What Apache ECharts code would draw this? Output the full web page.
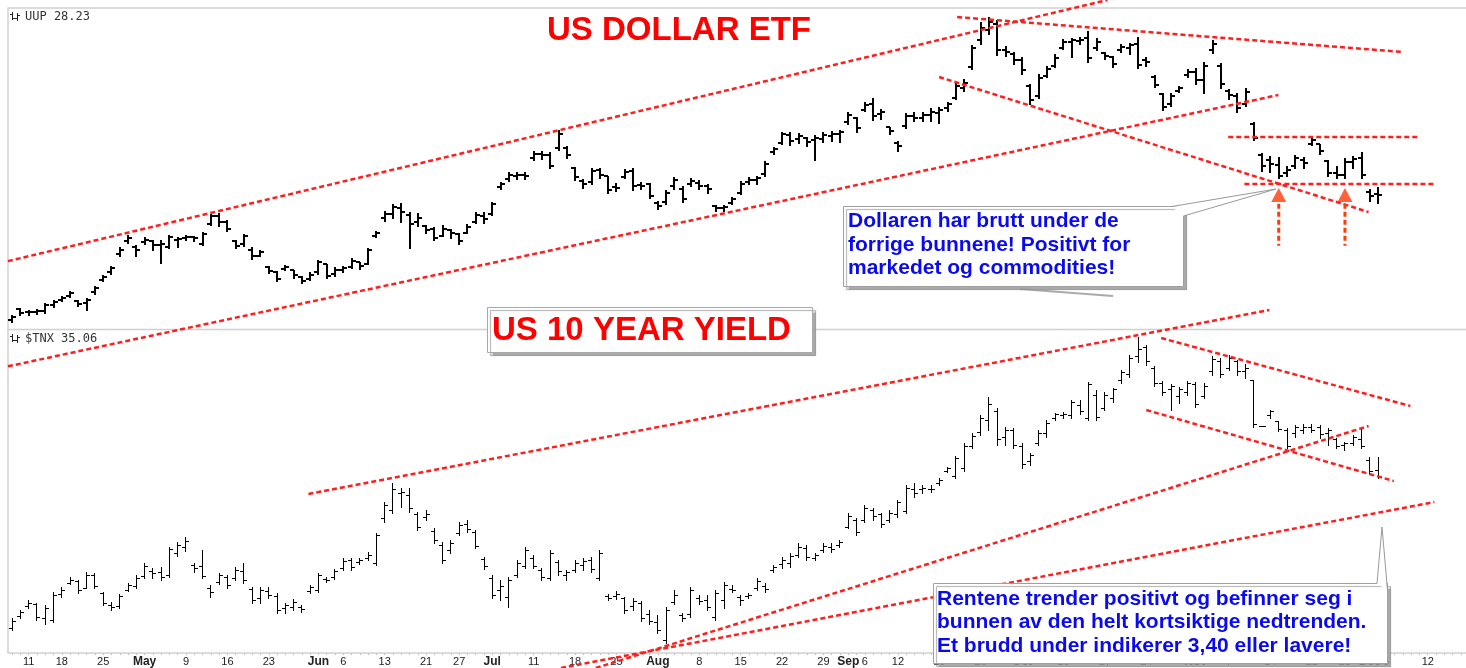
<!DOCTYPE html>
<html><head><meta charset="utf-8">
<script src="https://cdn.jsdelivr.net/npm/echarts@6/dist/echarts.min.js"></script>
<style>html,body{margin:0;padding:0;background:#fff}#chart{width:1466px;height:668px}</style>
</head><body><div id="chart"></div>
<script>
// ---------- DATA ----------
const tradingDays = [
 ['2022-04', [7,8,11,12,13,14,18,19,20,21,22,25,26,27,28,29]],
 ['2022-05', [2,3,4,5,6,9,10,11,12,13,16,17,18,19,20,23,24,25,26,27,31]],
 ['2022-06', [1,2,3,6,7,8,9,10,13,14,15,16,17,21,22,23,24,27,28,29,30]],
 ['2022-07', [1,5,6,7,8,11,12,13,14,15,18,19,20,21,22,25,26,27,28,29]],
 ['2022-08', [1,2,3,4,5,8,9,10,11,12,15,16,17,18,19,22,23,24,25,26,29,30,31]],
 ['2022-09', [1,2,6,7,8,9,12,13,14,15,16,19,20,21,22,23,26,27,28,29,30]],
 ['2022-10', [3,4,5,6,7,10,11,12,13,14,17,18,19,20,21,24,25,26,27,28,31]],
 ['2022-11', [1,2,3,4,7,8,9,10,11,14,15,16,17,18,21,22,23,25,28,29,30]],
 ['2022-12', [1,2,5,6,7,8,9,12,13,14,15,16]]
];
const tickLabels = [
 ['2022-04-11','11'],['2022-04-18','18'],['2022-04-25','25'],['2022-05-02','May'],['2022-05-09','9'],
 ['2022-05-16','16'],['2022-05-23','23'],['2022-06-01','Jun'],['2022-06-06','6'],['2022-06-13','13'],
 ['2022-06-21','21'],['2022-06-27','27'],['2022-07-01','Jul'],['2022-07-11','11'],['2022-07-18','18'],
 ['2022-07-25','25'],['2022-08-01','Aug'],['2022-08-08','8'],['2022-08-15','15'],['2022-08-22','22'],
 ['2022-08-29','29'],['2022-09-01','Sep'],['2022-09-06','6'],['2022-09-12','12'],['2022-09-19','19'],
 ['2022-09-26','26'],['2022-10-03','Oct'],['2022-10-10','10'],['2022-10-17','17'],['2022-10-24','24'],
 ['2022-11-01','Nov'],['2022-11-07','7'],['2022-11-14','14'],['2022-11-21','21'],['2022-11-28','28'],
 ['2022-12-01','Dec'],['2022-12-05','5'],['2022-12-12','12']
];
// UUP daily bars: [open, high, low, close]
const uupOHLC = [
[26.36,26.43,26.33,26.40],[26.52,26.54,26.43,26.46],[26.48,26.51,26.43,26.48],[26.48,26.52,26.45,26.49],[26.49,26.61,26.46,26.58],
[26.58,26.66,26.55,26.63],[26.66,26.72,26.64,26.69],[26.72,26.79,26.70,26.76],[26.64,26.66,26.57,26.60],[26.61,26.69,26.51,26.66],
[26.78,26.87,26.75,26.84],[26.96,27.03,26.94,27.00],[27.08,27.17,27.05,27.14],[27.35,27.45,27.32,27.41],[27.54,27.63,27.51,27.59],
[27.45,27.48,27.32,27.41],[27.53,27.60,27.50,27.56],[27.54,27.56,27.41,27.48],[27.48,27.56,27.21,27.50],[27.45,27.63,27.44,27.60],
[27.56,27.60,27.45,27.57],[27.59,27.63,27.56,27.60],[27.60,27.62,27.54,27.59],[27.50,27.68,27.48,27.65],[27.80,27.95,27.78,27.92],
[27.92,27.96,27.77,27.83],[27.83,27.86,27.69,27.72],[27.54,27.56,27.44,27.47],[27.50,27.65,27.47,27.62],[27.41,27.45,27.27,27.32],
[27.32,27.41,27.32,27.38],[27.15,27.17,27.06,27.09],[27.08,27.09,26.94,26.97],[27.12,27.18,27.11,27.15],[27.11,27.11,26.99,27.03],
[27.00,27.02,26.91,26.94],[26.97,27.08,26.96,27.03],[27.08,27.26,27.05,27.23],[27.20,27.20,26.99,27.02],[27.05,27.15,27.02,27.11],
[27.11,27.17,27.08,27.14],[27.15,27.29,27.14,27.24],[27.23,27.23,27.12,27.17],[27.20,27.44,27.20,27.41],[27.62,27.69,27.60,27.66],
[27.89,27.99,27.84,27.95],[27.95,28.10,27.89,28.05],[28.04,28.11,27.83,27.98],[27.93,27.98,27.44,27.80],[27.83,27.96,27.77,27.89],
[27.77,27.78,27.66,27.71],[27.72,27.75,27.56,27.59],[27.62,27.78,27.62,27.72],[27.71,27.72,27.59,27.66],[27.65,27.66,27.50,27.54],
[27.66,27.80,27.66,27.75],[27.83,27.98,27.81,27.93],[27.92,27.98,27.81,27.87],[27.95,28.13,27.93,28.10],[28.35,28.43,28.32,28.40],
[28.47,28.58,28.44,28.53],[28.52,28.58,28.47,28.53],[28.53,28.58,28.47,28.52],[28.79,28.89,28.76,28.85],[28.85,28.89,28.77,28.83],
[28.83,28.88,28.64,28.67],[28.94,29.21,28.91,29.15],[28.94,28.97,28.79,28.83],[28.64,28.65,28.46,28.50],[28.44,28.47,28.34,28.40],
[28.43,28.64,28.40,28.59],[28.61,28.64,28.49,28.53],[28.52,28.52,28.26,28.31],[28.35,28.41,28.29,28.34],[28.50,28.62,28.49,28.58],
[28.59,28.64,28.31,28.37],[28.38,28.43,28.32,28.37],[28.40,28.41,28.19,28.22],[28.11,28.14,28.02,28.07],[28.13,28.31,28.10,28.26],
[28.37,28.50,28.32,28.46],[28.32,28.37,28.13,28.17],[28.40,28.49,28.37,28.44],[28.41,28.46,28.32,28.37],[28.37,28.40,28.26,28.32],
[28.07,28.08,27.99,28.04],[28.04,28.08,27.99,28.05],[28.11,28.20,28.10,28.17],[28.26,28.44,28.25,28.40],[28.43,28.50,28.40,28.46],
[28.46,28.52,28.40,28.49],[28.55,28.74,28.52,28.70],[28.88,28.95,28.85,28.92],[29.01,29.18,29.00,29.15],[29.13,29.18,28.98,29.04],
[29.07,29.16,29.01,29.12],[29.09,29.10,28.97,29.03],[29.06,29.13,28.76,29.09],[29.07,29.18,29.03,29.13],[29.12,29.19,29.04,29.15],
[29.15,29.21,29.03,29.18],[29.33,29.48,29.30,29.43],[29.39,29.40,29.18,29.24],[29.51,29.63,29.49,29.58],[29.60,29.69,29.36,29.42],
[29.45,29.52,29.37,29.48],[29.25,29.25,29.15,29.19],[29.01,29.04,28.89,28.97],[29.27,29.46,29.24,29.42],[29.42,29.48,29.34,29.39],
[29.39,29.48,29.34,29.43],[29.43,29.54,29.34,29.48],[29.46,29.55,29.31,29.51],[29.54,29.63,29.49,29.60],[29.69,29.93,29.67,29.87],
[29.84,29.97,29.79,29.91],[30.15,30.48,30.12,30.44],[30.56,30.83,30.50,30.74],[30.71,30.90,30.65,30.83],[30.80,30.86,30.33,30.41],
[30.41,30.47,30.32,30.38],[30.35,30.38,30.20,30.26],[30.26,30.30,30.05,30.11],[29.87,29.90,29.60,29.66],[29.72,30.05,29.69,29.99],
[30.02,30.17,30.00,30.12],[30.17,30.35,30.15,30.29],[30.44,30.57,30.42,30.53],[30.53,30.59,30.30,30.56],[30.54,30.60,30.50,30.56],
[30.59,30.69,30.23,30.29],[30.44,30.59,30.41,30.53],[30.36,30.38,30.27,30.32],[30.30,30.32,30.15,30.20],[30.41,30.50,30.38,30.45],
[30.44,30.51,30.35,30.48],[30.50,30.60,30.14,30.18],[30.26,30.30,30.17,30.23],[30.00,30.03,29.85,29.88],[29.75,29.76,29.51,29.55],
[29.60,29.76,29.57,29.72],[29.79,29.87,29.78,29.84],[30.03,30.12,30.00,30.08],[30.08,30.14,29.90,29.96],[29.96,30.23,29.76,30.17],
[30.41,30.56,30.36,30.50],[30.17,30.21,29.84,29.90],[29.79,29.82,29.67,29.73],[29.72,29.76,29.48,29.54],[29.60,29.84,29.57,29.78],
[29.30,29.33,29.06,29.09],[28.83,28.86,28.59,28.67],[28.76,28.82,28.58,28.70],[28.68,28.80,28.49,28.52],[28.56,28.67,28.52,28.61],
[28.67,28.83,28.64,28.79],[28.76,28.80,28.64,28.71],[29.00,29.10,28.98,29.06],[29.00,29.00,28.85,28.89],[28.74,28.76,28.52,28.56],
[28.56,28.67,28.49,28.53],[28.53,28.79,28.49,28.73],[28.73,28.82,28.64,28.77],[28.79,28.88,28.49,28.53],[28.28,28.32,28.14,28.22],
[28.25,28.35,28.11,28.23]
];
// $TNX daily bars (yield x10): [open, high, low, close]
const tnxOHLC = [
[26.06,26.66,25.94,26.48],[26.78,27.14,26.66,27.02],[27.38,27.74,27.26,27.56],[27.50,27.56,26.54,26.72],[26.66,27.44,26.30,27.26],
[26.54,28.22,26.42,28.04],[28.10,28.52,27.92,28.34],[28.76,29.12,28.70,28.94],[28.88,28.94,28.16,28.34],[28.46,29.42,28.46,29.24],
[29.24,29.36,28.46,28.58],[28.16,28.22,27.44,27.56],[27.44,27.62,27.14,27.32],[27.38,28.10,27.26,27.98],[28.34,28.76,28.28,28.64],
[28.58,29.24,28.46,29.06],[29.18,29.96,29.06,29.78],[29.48,29.66,29.06,29.36],[29.42,29.72,28.94,29.12],[29.24,30.92,29.12,30.80],
[30.56,31.22,30.38,31.04],[30.92,31.52,30.68,31.28],[29.84,29.96,29.42,29.66],[29.78,30.74,29.06,29.18],[28.46,28.64,27.92,28.22],
[28.82,29.36,28.70,29.24],[29.12,29.24,28.46,28.64],[29.06,29.72,28.94,29.54],[29.48,29.96,28.76,28.94],[28.40,28.52,27.56,27.74],
[27.86,28.52,27.56,28.34],[28.28,28.52,27.86,28.04],[27.98,28.16,26.96,27.14],[27.26,27.56,26.96,27.44],[27.32,27.80,27.14,27.62],
[27.32,27.44,27.02,27.20],[28.28,28.64,28.16,28.52],[28.34,29.36,28.22,29.24],[29.00,29.12,28.82,28.94],[29.12,29.60,29.00,29.48],
[29.66,30.26,29.54,30.08],[30.14,30.26,29.54,29.72],[30.02,30.26,29.90,30.14],[30.26,30.62,30.14,30.44],[29.96,31.76,29.84,31.64],
[32.66,33.62,32.42,33.44],[33.14,34.76,32.96,34.34],[34.16,34.46,33.32,34.22],[34.04,34.46,33.02,33.26],[32.84,33.02,31.94,32.12],
[32.72,33.14,32.54,32.90],[31.88,32.06,31.16,31.34],[31.04,31.22,29.96,30.14],[30.74,31.34,30.56,31.16],[31.76,32.42,31.64,32.24],
[32.30,32.54,31.82,32.00],[31.82,31.94,30.86,30.98],[30.20,30.32,29.60,29.78],[29.06,29.24,27.86,28.04],[28.34,28.94,27.74,28.58],
[27.92,29.12,27.32,28.94],[29.24,30.14,29.12,29.96],[29.78,30.92,29.66,30.74],[30.26,30.44,29.66,29.78],[29.54,29.66,28.94,29.12],
[29.06,30.74,28.94,30.56],[30.02,30.14,29.24,29.48],[29.24,29.54,28.94,29.42],[29.54,30.14,29.42,29.96],[29.84,30.26,29.54,30.08],
[30.14,30.32,29.42,29.60],[29.06,30.74,28.94,30.56],[27.98,28.10,27.74,27.86],[27.98,28.28,27.80,28.10],[27.86,27.92,26.96,27.14],
[27.38,27.86,27.14,27.68],[27.56,27.68,26.48,26.66],[26.90,27.14,26.30,26.48],[26.42,26.84,25.76,25.94],[25.34,27.32,25.16,27.14],
[27.62,28.34,27.50,28.04],[26.84,26.96,26.48,26.66],[26.90,28.52,26.72,28.34],[27.86,28.04,27.50,27.68],[27.74,28.04,27.14,27.32],
[26.72,28.34,26.54,28.16],[27.74,28.82,27.26,28.64],[28.40,28.64,28.22,28.34],[27.92,28.04,27.44,27.74],[27.98,28.16,27.86,28.04],
[28.46,29.06,28.34,28.88],[28.58,28.76,28.22,28.40],[29.54,29.84,29.42,29.72],[29.90,30.32,29.66,30.14],[29.96,30.56,29.72,30.38],
[30.44,31.16,30.32,30.92],[30.86,31.04,30.14,30.32],[30.26,30.56,30.14,30.44],[30.74,31.16,30.62,30.98],[30.92,31.16,30.62,30.80],
[31.04,31.34,30.92,31.22],[32.12,32.96,32.06,32.78],[32.54,32.66,31.64,31.82],[32.54,33.44,32.42,33.26],[33.14,33.26,32.54,32.78],
[32.84,32.96,32.12,32.30],[32.54,33.14,32.42,32.96],[32.84,33.74,32.72,33.56],[33.08,34.64,32.96,34.46],[34.34,34.76,33.92,34.10],
[34.34,34.64,34.16,34.46],[34.40,34.64,34.22,34.34],[34.70,35.06,34.64,34.94],[35.48,35.72,35.42,35.60],[35.18,36.38,35.06,36.20],
[35.66,37.16,35.48,36.98],[36.98,37.76,36.86,37.58],[37.82,38.84,37.64,38.66],[38.54,39.92,37.94,39.50],[39.02,39.26,37.04,37.34],
[37.46,38.12,37.04,37.94],[37.94,38.06,36.86,37.04],[36.98,37.16,35.66,35.84],[36.02,36.56,35.84,36.44],[37.16,37.94,37.04,37.76],
[37.70,38.54,37.52,38.36],[38.66,38.96,38.54,38.84],[38.78,39.02,38.66,38.90],[38.78,39.74,38.66,39.56],[39.44,39.74,38.90,39.08],
[38.66,40.82,38.54,40.64],[40.04,40.34,38.54,38.72],[39.26,40.22,39.14,40.04],[39.86,40.46,39.62,40.34],[40.88,41.54,40.76,41.36],
[41.24,42.44,41.12,42.26],[42.32,43.52,42.02,42.74],[42.86,43.04,41.84,42.02],[41.66,41.78,40.58,40.76],[40.76,40.88,40.04,40.22],
[40.34,40.70,39.14,40.52],[39.98,40.52,39.56,40.34],[40.22,40.88,40.04,40.70],[40.64,40.82,39.32,39.50],[39.98,40.76,39.86,40.58],
[41.42,42.38,41.24,42.14],[42.02,42.26,41.12,41.30],[41.66,42.44,41.54,42.26],[42.02,42.14,41.24,41.42],[41.42,41.90,41.06,41.66],
[40.88,40.94,38.12,38.24],[38.18,38.18,38.18,38.18],[38.78,39.14,38.66,39.02],[38.42,38.48,37.88,38.00],[37.94,38.06,36.86,36.98],
[37.76,38.24,37.52,38.06],[37.94,38.30,37.76,38.12],[38.06,38.30,37.82,37.94],[38.12,38.24,37.46,37.64],[37.70,38.06,37.04,37.88],
[37.34,37.46,36.86,36.98],[37.04,37.22,36.74,37.10],[37.16,37.64,37.04,37.46],[37.34,38.06,36.86,36.98],[36.14,36.32,35.30,35.42],
[35.54,36.32,35.06,35.06]
];
// trendlines in data units: [[trading-day index, price], [trading-day index, price]]
const uupTrendlines = [
 [[-1.45, 27.21], [132.3, 31.155]],
 [[-1.45, 25.635], [152.96, 29.73]],
 [[114.15, 30.90], [167.96, 30.375]],
 [[111.97, 30.00], [163.85, 27.975]],
 [[146.9, 29.10], [169.8, 29.10]],
 [[148.85, 28.395], [171.7, 28.395]]
];
const tnxTrendlines = [
 [[35.79, 34.10], [151.87, 45.14]],
 [[138.8, 43.46], [168.9, 39.38]],
 [[137.0, 39.14], [166.9, 34.88]],
 [[70.5, 23.66], [163.85, 38.18]],
 [[66.3, 23.66], [171.8, 33.62]]
];
const arrowDates = ['2022-11-15', '2022-11-28'];
const arrowHeadLevel = 28.23;
const arrowStem = [28.10, 27.47];
const uupRange = [26.22, 31.035];
const tnxRange = [24.56, 43.94];

// ---------- BUILD ----------
const categories = [];
tradingDays.forEach(([ym, days]) => days.forEach(d => categories.push(ym + '-' + String(d).padStart(2, '0'))));
const tickMap = Object.fromEntries(tickLabels);
const N = categories.length;

const RED = '#ff1e1e', ARROW = '#ff3b0a', BLUE = '#0a0af0', BORDER = '#d0d0d0';
const GL = 8, GR = 1;

function ohlcSeries(data, xi, yi, lw, tick) {
  return {
    type: 'custom', xAxisIndex: xi, yAxisIndex: yi, z: 2, animation: false, silent: true,
    data: data.map((d, i) => [i, d[0], d[1], d[2], d[3]]),
    encode: { x: 0, y: [1, 2, 3, 4] },
    renderItem: function (params, api) {
      const i = api.value(0);
      const off = lw % 2 ? 0.5 : 0;
      const snap = v => Math.round(v - off) + off;
      const pO = api.coord([i, api.value(1)]);
      const pH = api.coord([i, api.value(2)]);
      const pL = api.coord([i, api.value(3)]);
      const pC = api.coord([i, api.value(4)]);
      const x = snap(pO[0]);
      const st = { stroke: '#000', lineWidth: lw, lineCap: 'butt' };
      return { type: 'group', children: [
        { type: 'line', shape: { x1: x, y1: Math.round(pH[1]), x2: x, y2: Math.round(pL[1]) + 1 }, style: st },
        { type: 'line', shape: { x1: x - lw / 2 - tick, y1: snap(pO[1]), x2: x, y2: snap(pO[1]) }, style: st },
        { type: 'line', shape: { x1: x, y1: snap(pC[1]), x2: x + lw / 2 + tick, y2: snap(pC[1]) }, style: st }
      ]};
    }
  };
}
function trendSeries(seg, xi, yi) {
  return { type: 'line', xAxisIndex: xi, yAxisIndex: yi, data: seg, symbol: 'none', clip: false,
    silent: true, z: 5, animation: false, lineStyle: { color: RED, width: 2.5, type: [5, 3] } };
}

const series = [
  ohlcSeries(uupOHLC, 0, 0, 2, 3),
  ohlcSeries(tnxOHLC, 1, 1, 1, 3),
  ...uupTrendlines.map(s => trendSeries(s, 2, 0)),
  ...tnxTrendlines.map(s => trendSeries(s, 3, 1)),
  ...arrowDates.map(d => ({ type: 'line', xAxisIndex: 0, yAxisIndex: 0, data: [[d, arrowStem[0]], [d, arrowStem[1]]],
    symbol: 'none', clip: false, silent: true, z: 6, animation: false, lineStyle: { color: ARROW, width: 3, type: [5, 3] } })),
  { type: 'scatter', xAxisIndex: 0, yAxisIndex: 0, data: arrowDates.map(d => [d, arrowHeadLevel]), symbol: 'triangle',
    symbolSize: [15, 14], itemStyle: { color: ARROW }, z: 7, silent: true, animation: false }
];

const txtFont = 'bold 21px "Liberation Sans", Arial, sans-serif';
function textEl(x, y, text, font, fill) {
  return { type: 'text', x: x, y: y, z: 110, silent: true,
    style: { text: text, font: font, fill: fill, align: 'left', verticalAlign: 'middle' } };
}
function tickerIcon(x, y) {
  const st = { stroke: '#222', lineWidth: 1 };
  return [
    { type: 'line', z: 110, shape: { x1: x + 0.5, y1: y, x2: x + 0.5, y2: y + 8 }, style: st },
    { type: 'line', z: 110, shape: { x1: x - 2, y1: y + 2.5, x2: x, y2: y + 2.5 }, style: st },
    { type: 'line', z: 110, shape: { x1: x + 1, y1: y + 6.5, x2: x + 3, y2: y + 6.5 }, style: st },
    { type: 'line', z: 110, shape: { x1: x + 5.5, y1: y + 1, x2: x + 5.5, y2: y + 9 }, style: st },
    { type: 'line', z: 110, shape: { x1: x + 3, y1: y + 6.5, x2: x + 5, y2: y + 6.5 }, style: st },
    { type: 'line', z: 110, shape: { x1: x + 6, y1: y + 3.5, x2: x + 8, y2: y + 3.5 }, style: st }
  ];
}
function borderLine(x1, y1, x2, y2) {
  return { type: 'line', z: 1, silent: true, shape: { x1, y1, x2, y2 }, style: { stroke: BORDER, lineWidth: 1.5 } };
}
const monoFont = '12px "DejaVu Sans Mono", monospace';
const uupLast = uupOHLC[uupOHLC.length - 1][3].toFixed(2);
const tnxLast = tnxOHLC[tnxOHLC.length - 1][3].toFixed(2);

const graphic = [
  borderLine(7.5, 8, 1466, 8),
  borderLine(8, 8, 8, 653),
  borderLine(7.5, 329.5, 1466, 329.5),
  borderLine(7.5, 653, 1466, 653),
  ...tickerIcon(12, 12),
  textEl(25, 16.5, 'UUP ' + uupLast, monoFont, '#333'),
  ...tickerIcon(12, 334),
  textEl(25, 338.5, '$TNX ' + tnxLast, monoFont, '#333'),
  textEl(547, 31, 'US DOLLAR ETF', 'bold 33px "Liberation Sans", Arial, sans-serif', '#ff0000'),
  // US 10 YEAR YIELD box
  { type: 'rect', z: 105, shape: { x: 487.5, y: 307.5, width: 325, height: 45 },
    style: { fill: '#fff', stroke: '#a8a8a8', lineWidth: 1, shadowColor: 'rgba(150,150,150,0.8)', shadowOffsetX: 3, shadowOffsetY: 3, shadowBlur: 1 } },
  textEl(492, 330.5, 'US 10 YEAR YIELD', 'bold 33px "Liberation Sans", Arial, sans-serif', '#ff0000'),
  // Dollaren callout
  { type: 'line', z: 104, shape: { x1: 1020, y1: 289, x2: 1113, y2: 296 }, style: { stroke: '#aaa', lineWidth: 2 } },
  { type: 'rect', z: 105, shape: { x: 843.5, y: 206.5, width: 340, height: 80 },
    style: { fill: '#fff', stroke: '#a0a0a0', lineWidth: 1, shadowColor: 'rgba(150,150,150,0.8)', shadowOffsetX: 3, shadowOffsetY: 3, shadowBlur: 1 } },
  { type: 'polygon', z: 106, shape: { points: [[1172, 207], [1276, 189], [1183, 216]] }, style: { fill: '#fff' } },
  { type: 'polyline', z: 107, shape: { points: [[1172, 206.5], [1276, 189], [1183.5, 216]] }, style: { stroke: '#999', lineWidth: 1, fill: null } },
  textEl(848, 221.5, 'Dollaren har brutt under de', txtFont, BLUE),
  textEl(848, 245, 'forrige bunnene! Positivt for', txtFont, BLUE),
  textEl(848, 268.5, 'markedet og commodities!', txtFont, BLUE),
  // Rentene callout
  { type: 'rect', z: 105, shape: { x: 933.5, y: 583.5, width: 454, height: 80 },
    style: { fill: '#fff', stroke: '#a0a0a0', lineWidth: 1, shadowColor: 'rgba(150,150,150,0.8)', shadowOffsetX: 3, shadowOffsetY: 3, shadowBlur: 1 } },
  { type: 'polygon', z: 106, shape: { points: [[1377, 584], [1382, 527], [1387, 590]] }, style: { fill: '#fff' } },
  { type: 'polyline', z: 107, shape: { points: [[1377, 583.5], [1382, 527], [1387.5, 590]] }, style: { stroke: '#999', lineWidth: 1, fill: null } },
  textEl(937, 599, 'Rentene trender positivt og befinner seg i', txtFont, BLUE),
  textEl(937, 622.5, 'bunnen av den helt kortsiktige nedtrenden.', txtFont, BLUE),
  textEl(937, 646, 'Et brudd under indikerer 3,40 eller lavere!', txtFont, BLUE)
];

const chart = echarts.init(document.getElementById('chart'), null, { renderer: 'canvas' });
chart.setOption({
  animation: false,
  backgroundColor: '#fff',
  grid: [
    { left: GL, right: GR, top: 8, height: 321, show: false, containLabel: false },
    { left: GL, right: GR, top: 330, height: 323, show: false, containLabel: false }
  ],
  xAxis: [
    { type: 'category', gridIndex: 0, data: categories, boundaryGap: true, axisLine: { show: false }, axisTick: { show: false }, axisLabel: { show: false }, splitLine: { show: false } },
    { type: 'category', gridIndex: 1, data: categories, boundaryGap: true,
      axisLine: { show: false },
      axisTick: { show: true, interval: 0, alignWithLabel: true, length: 2, lineStyle: { color: '#bbb' } },
      axisLabel: { show: true, interval: 0, hideOverlap: false, margin: 3, fontSize: 11, color: '#222',
        fontFamily: '"Liberation Sans", Arial, sans-serif',
        formatter: v => { const t = tickMap[v]; if (!t) return ''; return /^[A-Z]/.test(t) ? '{b|' + t + '}' : t; },
        rich: { b: { fontWeight: 'bold', fontSize: 12, color: '#222', fontFamily: '"Liberation Sans", Arial, sans-serif' } } },
      splitLine: { show: false } },
    { type: 'value', gridIndex: 0, min: -0.5, max: N - 0.5, show: false },
    { type: 'value', gridIndex: 1, min: -0.5, max: N - 0.5, show: false }
  ],
  yAxis: [
    { type: 'value', gridIndex: 0, min: uupRange[0], max: uupRange[1], show: false, splitLine: { show: false } },
    { type: 'value', gridIndex: 1, min: tnxRange[0], max: tnxRange[1], show: false, splitLine: { show: false } }
  ],
  series: series,
  graphic: graphic
});
</script>
</body></html>
